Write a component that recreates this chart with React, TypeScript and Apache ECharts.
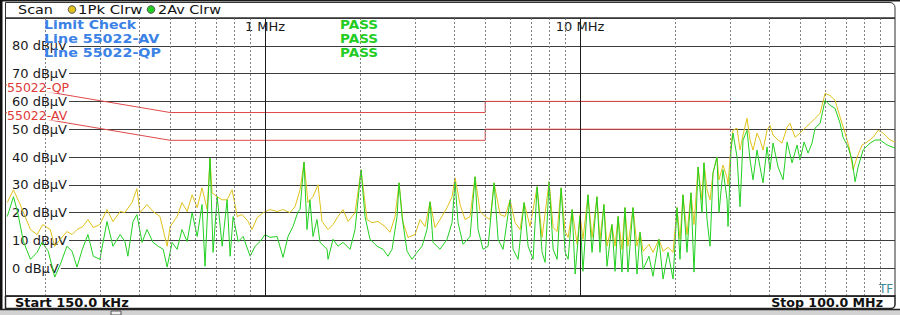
import React, { useEffect, useRef } from "react";
import * as echarts from "echarts";

const FONT = '"DejaVu Sans", Verdana, sans-serif';

// Peak (1Pk Clrw) trace — frequency in MHz, level in dBµV
const pkFreq = [
  0.152, 0.159, 0.167, 0.18, 0.189, 0.197, 0.208, 0.215, 0.224, 0.235, 0.244, 0.253, 0.264, 0.274, 0.285, 0.299,
  0.315, 0.329, 0.347, 0.359, 0.378, 0.392, 0.401, 0.422, 0.441, 0.464, 0.489, 0.5, 0.526, 0.545, 0.566, 0.587,
  0.609, 0.631, 0.655, 0.669, 0.679, 0.705, 0.731, 0.758, 0.786, 0.816, 0.846, 0.884, 0.91, 0.944, 0.987, 1.037,
  1.092, 1.141, 1.2, 1.245, 1.292, 1.33, 1.369, 1.389, 1.42, 1.473, 1.517, 1.585, 1.644, 1.705, 1.768, 1.835,
  1.931, 2.018, 2.108, 2.186, 2.285, 2.404, 2.494, 2.587, 2.664, 2.743, 2.845, 2.994, 3.106, 3.221, 3.341, 3.466,
  3.594, 3.783, 3.924, 4.011, 4.161, 4.316, 4.477, 4.643, 4.816, 4.996, 5.182, 5.336, 5.575, 5.783, 5.998, 6.222,
  6.453, 6.645, 6.943, 7.308, 7.58, 7.978, 8.216, 8.46, 8.71, 8.97, 9.169, 9.441, 9.793, 10.0, 10.22, 10.6,
  10.92, 11.32, 11.57, 11.91, 12.18, 12.63, 12.92, 13.21, 13.59, 13.89, 14.2, 14.73, 15.17, 15.51, 15.86, 16.56,
  17.05, 17.81, 18.35, 19.03, 19.74, 20.32, 20.77, 21.23, 21.86, 22.51, 23.01, 23.7, 24.39, 24.75, 25.31, 25.87,
  26.44, 27.22, 27.62, 28.45, 29.3, 29.51, 30.16, 30.6, 31.52, 32.21, 32.93, 33.9, 34.66, 35.43, 36.47, 37.28,
  38.11, 39.24, 40.11, 41.0, 42.54, 43.79, 45.43, 46.43, 48.16, 49.96, 51.82, 53.75, 55.75, 57.83, 59.98, 62.22,
  64.53, 66.94, 69.43, 71.49, 73.62, 75.8, 78.62, 81.55, 85.22, 88.39, 91.69, 96.51, 100,
];
const pkLevel = [
  23.6, 28.2, 22.9, 13.9, 12.1, 15.7, 13.9, 7.9, 10.4, 13.2, 12.1, 13.9, 15.0, 17.5, 14.6, 15.7,
  21.1, 16.8, 20.4, 20.0, 23.6, 28.6, 20.0, 22.9, 20.4, 18.6, 7.9, 15.0, 18.6, 23.6, 20.4, 26.4,
  21.8, 28.9, 21.1, 39.6, 27.1, 25.7, 24.6, 24.6, 28.2, 18.6, 19.3, 16.8, 13.9, 18.2, 20.0, 21.1,
  20.4, 21.1, 20.0, 22.1, 28.2, 38.2, 23.6, 24.6, 25.7, 30.0, 16.8, 13.9, 15.7, 18.6, 21.1, 16.8,
  20.0, 35.4, 17.5, 16.4, 16.8, 15.0, 12.9, 18.6, 30.7, 16.4, 11.1, 12.1, 17.5, 15.0, 23.9, 14.6,
  17.5, 21.8, 25.7, 32.5, 22.9, 17.5, 18.6, 32.9, 20.4, 18.6, 17.5, 30.7, 19.3, 18.6, 24.6, 16.4,
  13.9, 23.6, 15.0, 29.3, 11.1, 31.1, 14.6, 13.2, 28.9, 13.2, 11.1, 21.1, 8.6, 19.3, 10.4, 26.4,
  11.1, 25.7, 10.4, 22.9, 7.9, 15.7, 7.9, 18.6, 6.8, 21.8, 7.9, 21.8, 7.9, 12.9, 6.1, 8.6,
  5.7, 10.4, 6.1, 7.5, 5.7, 21.8, 10.4, 26.4, 12.1, 27.1, 15.7, 36.4, 24.6, 37.9, 28.2, 24.6,
  34.3, 40.0, 31.8, 37.1, 32.5, 30.0, 44.3, 49.6, 50.4, 42.5, 47.9, 53.9, 46.1, 42.5, 48.6, 46.1,
  42.5, 49.6, 51.4, 47.9, 46.1, 45.0, 50.7, 52.1, 47.1, 48.6, 50.4, 52.1, 53.9, 55.7, 62.9, 62.1,
  60.4, 54.3, 48.6, 43.6, 35.4, 40.0, 44.3, 45.4, 47.1, 49.6, 48.6, 46.1, 45.4,
];

// Average (2Av Clrw) trace — frequency in MHz, level in dBµV
const avFreq = [
  0.152, 0.159, 0.164, 0.171, 0.18, 0.189, 0.196, 0.205, 0.215, 0.224, 0.235, 0.244, 0.253, 0.263, 0.274, 0.285,
  0.299, 0.315, 0.329, 0.347, 0.359, 0.367, 0.381, 0.392, 0.407, 0.422, 0.441, 0.458, 0.475, 0.489, 0.507, 0.526,
  0.545, 0.566, 0.587, 0.609, 0.631, 0.645, 0.669, 0.684, 0.705, 0.731, 0.758, 0.775, 0.792, 0.822, 0.852, 0.897,
  0.93, 0.965, 1.0, 1.037, 1.092, 1.141, 1.183, 1.227, 1.273, 1.292, 1.33, 1.359, 1.389, 1.42, 1.462, 1.495,
  1.574, 1.585, 1.644, 1.705, 1.768, 1.862, 1.931, 2.018, 2.077, 2.154, 2.268, 2.37, 2.457, 2.531, 2.625, 2.664,
  2.722, 2.824, 2.93, 3.038, 3.152, 3.268, 3.341, 3.415, 3.594, 3.783, 3.924, 4.011, 4.1, 4.254, 4.477, 4.643,
  4.746, 4.923, 5.107, 5.336, 5.494, 5.699, 5.998, 6.131, 6.36, 6.645, 6.843, 7.097, 7.308, 7.58, 7.748, 7.978,
  8.216, 8.46, 8.71, 8.97, 9.169, 9.441, 9.651, 10.0, 10.22, 10.6, 10.92, 11.32, 11.57, 11.91, 12.18, 12.63,
  12.92, 13.21, 13.59, 13.89, 14.2, 14.73, 15.17, 15.51, 15.86, 16.56, 17.05, 17.81, 18.35, 19.03, 19.74, 20.32,
  20.77, 21.23, 21.86, 22.51, 23.01, 23.7, 24.39, 24.75, 25.31, 25.87, 26.44, 27.22, 27.62, 28.45, 29.3, 29.51,
  30.16, 30.6, 31.52, 32.21, 32.93, 33.9, 34.66, 35.43, 36.47, 37.28, 38.11, 39.24, 40.11, 41.0, 42.54, 44.12,
  45.43, 47.11, 48.87, 49.96, 51.44, 52.97, 54.54, 55.75, 57.83, 59.98, 62.22, 64.53, 66.94, 68.43, 70.97, 73.08,
  74.7, 76.36, 79.2, 83.37, 86.47, 89.7, 94.41, 100,
];
const avLevel = [
  18.6, 25.7, 20.0, 9.6, 3.2, 5.7, 9.3, 6.1, -3.2, 1.4, 7.9, 6.1, 0.4, 6.8, 12.1, 4.3,
  3.2, 16.8, 7.9, 12.1, 9.6, 4.3, 16.8, 19.3, 9.3, 13.9, 9.3, 7.9, 6.8, 0.4, 9.3, 6.8,
  13.9, 9.6, 20.0, 11.4, 22.9, 0.7, 39.6, 5.7, 25.7, 7.9, 24.6, 4.3, 18.6, 9.6, 11.4, 4.3,
  7.9, 9.6, 12.1, 11.1, 11.4, 3.9, 11.4, 15.0, 20.4, 21.1, 38.2, 13.9, 24.6, 11.4, 17.5, 9.3,
  6.8, 3.2, 10.4, 7.9, 9.3, 6.8, 13.9, 35.4, 18.6, 10.4, 7.9, 6.8, 4.3, 6.8, 18.6, 30.7,
  18.6, 6.1, 3.2, 5.7, 7.9, 13.9, 23.9, 9.3, 6.8, 10.4, 16.4, 31.1, 16.4, 8.6, 11.4, 32.9,
  13.9, 6.8, 7.9, 30.7, 10.4, 6.8, 24.6, 6.8, 3.2, 23.6, 7.9, 3.2, 29.3, 5.7, 2.1, 31.1,
  6.8, 3.2, 28.9, 5.7, 3.2, 21.1, -2.1, 18.6, -1.1, 26.4, 5.7, 25.7, 5.7, 22.9, 0.7, 15.7,
  -1.1, 18.6, -1.4, 21.8, -1.4, 21.8, -2.1, 12.9, -0.4, 4.3, -2.9, 10.4, -3.9, 5.7, -3.9, 21.8,
  3.2, 26.4, 5.7, 27.1, -1.4, 36.4, 20.0, 37.9, 17.5, 7.9, 34.3, 40.0, 20.0, 35.4, 24.6, 15.0,
  42.5, 48.6, 40.0, 22.1, 46.1, 49.6, 38.9, 31.8, 42.5, 36.4, 30.7, 43.6, 35.4, 45.0, 36.4, 31.8,
  45.4, 37.9, 44.3, 38.9, 45.4, 41.4, 45.0, 50.4, 52.1, 60.4, 58.6, 57.5, 52.1, 47.1, 43.6, 38.9,
  31.1, 36.4, 42.5, 45.0, 46.1, 46.1, 44.3, 43.2,
];

// EN 55022 limit lines
const qpLimitFreq = [0.15, 0.5, 5, 5, 30];
const qpLimitLevel = [66, 56, 56, 60, 60];
const avLimitFreq = [0.15, 0.5, 5, 5, 30];
const avLimitLevel = [56, 46, 46, 50, 50];

// Grid frequencies (MHz)
const minorGridFreqs = [0.2, 0.3, 0.4, 0.5, 0.6, 0.7, 0.8, 0.9, 2, 3, 4, 5, 6, 7, 8, 9, 20, 30, 40, 50, 60, 70, 80, 90];
const majorGridFreqs = [1, 10];
const xTickLabels: [number, string][] = [
  [1, "1 MHz"],
  [10, "10 MHz"],
];
const yMin = -10;
const yMax = 90;
const yStep = 10;
const yLabelMin = 0;
const yLabelMax = 80;

const zip = (xs: number[], ys: number[]) => xs.map((x, i) => [x, ys[i]]);

export default function App() {
  const ref = useRef<HTMLDivElement>(null);

  useEffect(() => {
    if (!ref.current) return;
    const chart = echarts.init(ref.current, undefined, { renderer: "svg" });

    const limitData = (fs: number[], ls: number[], name: string) =>
      fs.map((f, i) =>
        i === 0
          ? {
              value: [f, ls[i]],
              label: {
                show: true,
                formatter: name,
                position: "right",
                distance: 1.5,
                offset: [0, 3],
                color: "#e03a3a",
                fontSize: 12.5,
                lineHeight: 10,
                fontFamily: FONT,
                backgroundColor: "#ffffff",
                padding: [0, 1, 0, 0],
              },
            }
          : [f, ls[i]]
      );

    const gridLineData = [
      ...minorGridFreqs.map((f) => ({
        xAxis: f,
        lineStyle: { type: [2, 2], color: "#808080", width: 1 },
      })),
      ...majorGridFreqs.map((f) => ({
        xAxis: f,
        lineStyle: { type: "solid", color: "#1c1c1c", width: 1 },
      })),
    ];

    const txt = (
      text: string,
      x: number,
      y: number,
      opts: { fill?: string; bold?: boolean; size?: number; sx?: number; align?: string } = {}
    ) => ({
      type: "text",
      x,
      y,
      scaleX: opts.sx ?? 1,
      silent: true,
      z: 100,
      style: {
        text,
        fill: opts.fill ?? "#111",
        font: `${opts.bold ? "bold " : ""}${opts.size ?? 12}px ${FONT}`,
        align: opts.align ?? "left",
        verticalAlign: "middle",
      },
    });

    const option: any = {
      animation: false,
      backgroundColor: "#ffffff",
      grid: {
        left: 5.5,
        right: 5,
        top: 18,
        bottom: 19,
        show: true,
        borderColor: "#2a2a2a",
        borderWidth: 1,
        containLabel: false,
        outerBoundsMode: "none",
      },
      xAxis: {
        type: "log",
        logBase: 10,
        min: 0.15,
        max: 100,
        position: "top",
        z: 1,
        axisLine: { show: false },
        axisTick: { show: false },
        splitLine: { show: false },
        axisLabel: {
          inside: true,
          margin: 1,
          showMinLabel: false,
          showMaxLabel: false,
          color: "#1a1a1a",
          fontSize: 13,
          fontFamily: FONT,
          backgroundColor: "#ffffff",
          padding: [1, 2, 1, 2],
          formatter: (v: number) => {
            const hit = xTickLabels.find(([f]) => Math.abs(f - v) < 1e-6 * f);
            return hit ? hit[1] : "";
          },
        },
      },
      yAxis: {
        type: "value",
        min: yMin,
        max: yMax,
        interval: yStep,
        z: 1,
        axisLine: { show: false },
        axisTick: { show: false },
        splitLine: { show: true, lineStyle: { color: "#3c3c3c", width: 1 } },
        axisLabel: {
          inside: true,
          margin: 0.5,
          showMinLabel: false,
          showMaxLabel: false,
          color: "#1a1a1a",
          fontSize: 13,
          lineHeight: 11,
          fontFamily: FONT,
          backgroundColor: "#ffffff",
          padding: [0, 2, 0, 6],
          formatter: (v: number) => (v >= yLabelMin && v <= yLabelMax ? `${v} dBµV` : ""),
        },
      },
      series: [
        {
          name: "grid",
          type: "line",
          z: 0,
          silent: true,
          data: [[0.15, yMin]],
          symbol: "none",
          lineStyle: { opacity: 0 },
          markLine: {
            silent: true,
            symbol: ["none", "none"],
            label: { show: false },
            emphasis: { disabled: true },
            data: gridLineData,
          },
        },
        {
          name: "1Pk Clrw",
          type: "line",
          z: 2,
          data: zip(pkFreq, pkLevel),
          symbol: "none",
          showSymbol: false,
          lineStyle: { color: "#e0c21a", width: 1 },
        },
        {
          name: "2Av Clrw",
          type: "line",
          z: 3,
          data: zip(avFreq, avLevel),
          symbol: "none",
          showSymbol: false,
          lineStyle: { color: "#22d022", width: 1 },
        },
        {
          name: "55022-QP",
          type: "line",
          z: 4,
          clip: false,
          data: limitData(qpLimitFreq, qpLimitLevel, "55022-QP"),
          symbol: "circle",
          symbolSize: 0,
          showSymbol: true,
          lineStyle: { color: "#e04a4a", width: 1 },
          itemStyle: { color: "#e04a4a" },
        },
        {
          name: "55022-AV",
          type: "line",
          z: 4,
          clip: false,
          data: limitData(avLimitFreq, avLimitLevel, "55022-AV"),
          symbol: "circle",
          symbolSize: 0,
          showSymbol: true,
          lineStyle: { color: "#e04a4a", width: 1 },
          itemStyle: { color: "#e04a4a" },
        },
      ],
      graphic: [
        // outer frame
        { type: "rect", silent: true, z: 90, shape: { x: 0, y: 0, width: 900, height: 1.5 }, style: { fill: "#1a1a1a" } },
        { type: "rect", silent: true, z: 90, shape: { x: 0, y: 0, width: 2.5, height: 315 }, style: { fill: "#111" } },
        // header box
        {
          type: "rect",
          silent: true,
          z: 90,
          shape: { x: 5.5, y: 2.5, width: 889.5, height: 15.5, r: [0, 5, 0, 0] },
          style: { fill: "none", stroke: "#333", lineWidth: 1 },
        },
        // bottom bar
        {
          type: "rect",
          silent: true,
          z: 90,
          shape: { x: 5.5, y: 296, width: 889.5, height: 12.5, r: [0, 0, 4, 0] },
          style: { fill: "none", stroke: "#222", lineWidth: 1.5 },
        },
        { type: "rect", silent: true, z: 90, shape: { x: 0, y: 309.5, width: 900, height: 5.5 }, style: { fill: "#d2d2d2" } },
        { type: "line", silent: true, z: 91, shape: { x1: 0, y1: 309.5, x2: 900, y2: 309.5 }, style: { stroke: "#222", lineWidth: 1.5 } },
        { type: "rect", silent: true, z: 91, shape: { x: 111, y: 311, width: 10, height: 4 }, style: { fill: "#eee", stroke: "#555", lineWidth: 1 } },
        // header legend
        txt("Scan", 18, 9.5, { sx: 1.2 }),
        { type: "circle", silent: true, z: 100, shape: { cx: 72, cy: 9.5, r: 3.8 }, style: { fill: "#e0c21a", stroke: "#555", lineWidth: 1 } },
        txt("1Pk Clrw", 78, 9.5, { sx: 1.24 }),
        { type: "circle", silent: true, z: 100, shape: { cx: 151, cy: 9.5, r: 3.8 }, style: { fill: "#22d022", stroke: "#555", lineWidth: 1 } },
        txt("2Av Clrw", 158, 9.5, { sx: 1.2 }),
        // limit check panel
        txt("Limit Check", 44, 25, { bold: true, fill: "#3b82e6", sx: 1.17 }),
        txt("Line 55022-AV", 44, 39, { bold: true, fill: "#3b82e6", sx: 1.19 }),
        txt("Line 55022-QP", 44, 52.5, { bold: true, fill: "#3b82e6", sx: 1.19 }),
        txt("PASS", 340, 25, { bold: true, fill: "#22cc22", sx: 1.13 }),
        txt("PASS", 340, 39, { bold: true, fill: "#22cc22", sx: 1.13 }),
        txt("PASS", 340, 52.5, { bold: true, fill: "#22cc22", sx: 1.13 }),
        // footer
        txt("Start 150.0 kHz", 15, 303, { bold: true, sx: 1.08 }),
        txt("Stop 100.0 MHz", 883, 303, { bold: true, sx: 1.05, align: "right" }),
        txt("TF", 879, 289, { fill: "#3f8a9c", size: 12 }),
      ],
    };

    chart.setOption(option);
    return () => chart.dispose();
  }, []);

  return (
    <div
      ref={ref}
      style={{ position: "fixed", left: 0, top: 0, width: 900, height: 315, background: "#ffffff" }}
    />
  );
}
